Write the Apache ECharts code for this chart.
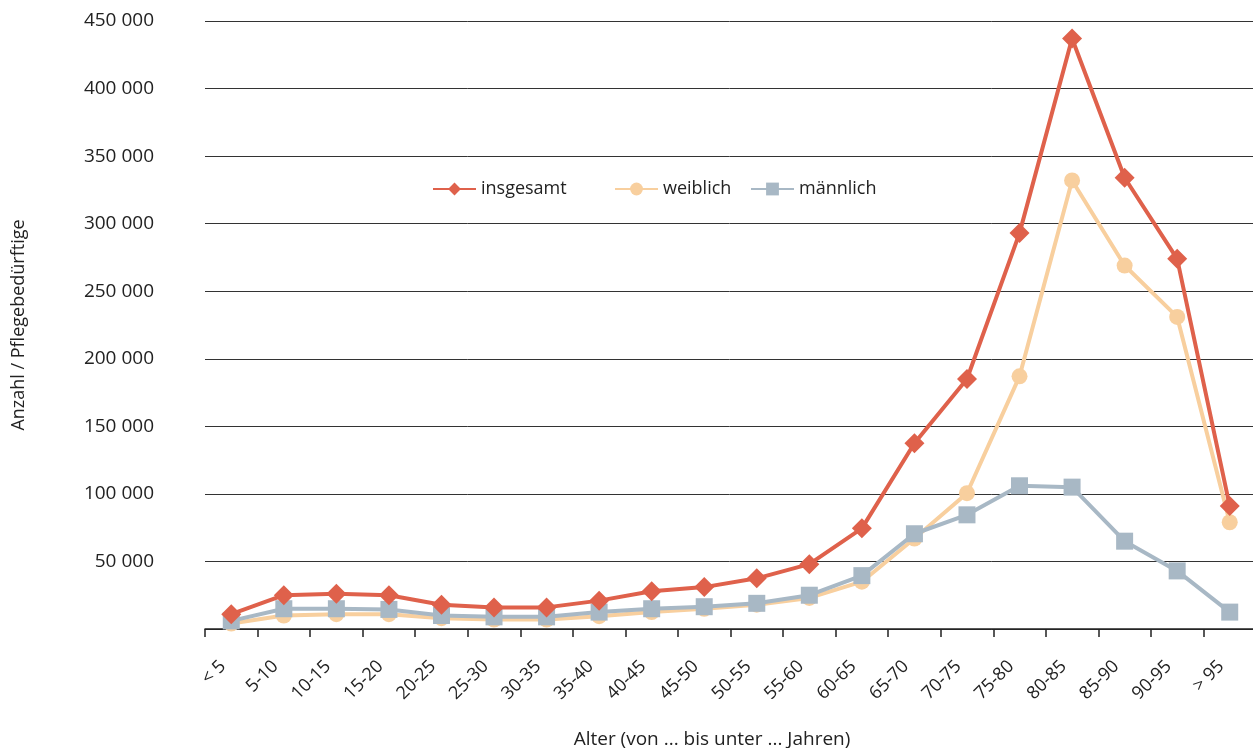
<!DOCTYPE html>
<html>
<head>
<meta charset="utf-8">
<script src="https://cdn.jsdelivr.net/npm/echarts@6/dist/echarts.min.js"></script>
<style>html,body{margin:0;padding:0;background:#fff;}#c{width:1253px;height:748px;}</style>
</head>
<body>
<div id="c"></div>
<script>
var categories = ['< 5','5-10','10-15','15-20','20-25','25-30','30-35','35-40','40-45','45-50','50-55','55-60','60-65','65-70','70-75','75-80','80-85','85-90','90-95','> 95'];
var insgesamt = [11000,25000,26000,25000,18000,16000,16000,21000,28000,31000,37500,48000,74500,137500,185000,293000,437000,334000,274000,91000];
var weiblich = [4000,10000,11000,11000,8000,7000,7000,9500,12500,15000,18000,23000,35000,67000,100500,187000,332000,269000,231000,79000];
var maennlich = [6000,15000,15000,14500,10000,9000,9000,12500,15000,16500,19000,25000,39500,70500,84500,106000,105000,65000,43000,12500];
var yTicks = {min: 0, max: 450000, interval: 50000};

var FONT = 'Open Sans';
var TXT = '#222';
var chart = echarts.init(document.getElementById('c'), null, {renderer: 'canvas'});
function fmt(v){ if (v === 0) return ''; return String(v).replace(/\B(?=(\d{3})+(?!\d))/g, ' '); }
function leg(name, left){
  return {data:[name], left:left, top:180, padding:0, itemWidth:43, itemHeight:16,
    textStyle:{fontFamily:FONT, fontSize:18, color:TXT}, selectedMode:false};
}
chart.setOption({
  animation:false,
  legend:[leg('insgesamt',432), leg('weiblich',614), leg('männlich',750)],
  grid:{left:205, top:21, width:1051, bottom:119, outerBoundsMode:'none', containLabel:false},
  xAxis:{type:'category', data:categories, boundaryGap:true,
    axisLine:{lineStyle:{color:'#222', width:1.5}},
    axisTick:{show:true, length:8, lineStyle:{color:'#222', width:1.5}},
    axisLabel:{rotate:45, fontFamily:FONT, fontSize:18, color:TXT, margin:26, interval:0, padding:[0,12,0,0]},
    name:'Alter (von ... bis unter ... Jahren)', nameLocation:'middle', nameGap:101,
    nameTextStyle:{fontFamily:FONT, fontSize:19, color:TXT, padding:[0,37,0,0]}
  },
  yAxis:{type:'value', min:yTicks.min, max:yTicks.max, interval:yTicks.interval,
    axisLine:{show:false}, axisTick:{show:false},
    splitLine:{lineStyle:{color:'#333', width:1}},
    axisLabel:{formatter:fmt, fontFamily:FONT, fontSize:19, color:TXT, margin:51},
    name:'Anzahl / Pflegebedürftige', nameLocation:'middle', nameRotate:90, nameGap:177,
    nameTextStyle:{fontFamily:FONT, fontSize:18, color:TXT}
  },
  series:[
    {name:'weiblich', type:'line', data:weiblich, symbol:'circle', symbolSize:16,
      itemStyle:{color:'#f8cf9e'}, lineStyle:{color:'#f8cf9e', width:4}, z:2},
    {name:'männlich', type:'line', data:maennlich, symbol:'rect', symbolSize:17,
      itemStyle:{color:'#a8b8c5'}, lineStyle:{color:'#a8b8c5', width:4}, z:3},
    {name:'insgesamt', type:'line', data:insgesamt, symbol:'diamond', symbolSize:20,
      itemStyle:{color:'#df614b'}, lineStyle:{color:'#df614b', width:4}, z:4}
  ]
});
</script>
</body>
</html>
